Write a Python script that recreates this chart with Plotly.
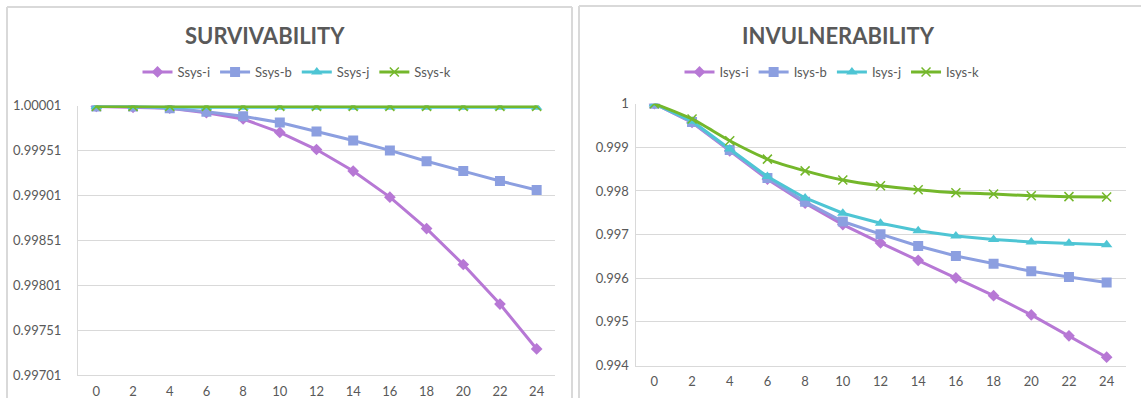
import plotly.graph_objects as go

# ---- data -------------------------------------------------------------
hours = [0, 2, 4, 6, 8, 10, 12, 14, 16, 18, 20, 22, 24]
hour_labels = [str(h) for h in hours]

ssys_i = [1.00000, 0.99999, 0.99998, 0.99993, 0.99986, 0.99971, 0.99952,
          0.99928, 0.99899, 0.99864, 0.99824, 0.99780, 0.99730]
ssys_b = [1.00000, 1.00000, 0.99998, 0.99994, 0.99989, 0.99982, 0.99972,
          0.99962, 0.99951, 0.99939, 0.99928, 0.99917, 0.99907]
ssys_j = [1.00000, 1.00000, 0.99999, 0.99999, 0.99999, 0.99999, 0.99999,
          0.99999, 0.99999, 0.99999, 0.99999, 0.99999, 0.99999]
ssys_k = [1.00000, 1.00000, 1.00000, 1.00000, 1.00000, 1.00000, 1.00000,
          1.00000, 1.00000, 1.00000, 1.00000, 1.00000, 1.00000]

isys_i = [1.00000, 0.99957, 0.99892, 0.99827, 0.99772, 0.99723, 0.99681,
          0.99641, 0.99601, 0.99560, 0.99516, 0.99468, 0.99419]
isys_b = [1.00000, 0.99958, 0.99894, 0.99830, 0.99775, 0.99730, 0.99701,
          0.99674, 0.99651, 0.99633, 0.99616, 0.99603, 0.99590]
isys_j = [1.00000, 0.99960, 0.99896, 0.99833, 0.99784, 0.99749, 0.99726,
          0.99709, 0.99697, 0.99689, 0.99683, 0.99680, 0.99677]
isys_k = [1.00000, 0.99965, 0.99915, 0.99873, 0.99846, 0.99825, 0.99812,
          0.99803, 0.99796, 0.99793, 0.99789, 0.99787, 0.99786]

s_ticks = [0.99701, 0.99751, 0.99801, 0.99851, 0.99901, 0.99951, 1.00001]
s_tick_labels = ["0.99701", "0.99751", "0.99801", "0.99851", "0.99901", "0.99951", "1.00001"]
i_ticks = [0.994, 0.995, 0.996, 0.997, 0.998, 0.999, 1.0]
i_tick_labels = ["0.994", "0.995", "0.996", "0.997", "0.998", "0.999", "1"]

# ---- styling ----------------------------------------------------------
W, H = 1141, 398
FONT = "Lato, Calibri, sans-serif"
TEXT = "#595959"
GRID = "#d9d9d9"

PURPLE = "#b778d5"
BLUE = "#8c9fe0"
CYAN = "#4ec5d4"
GREEN = "#74b72b"

series_style = [
    (PURPLE, "diamond", 9, 0),
    (BLUE, "square", 10, 0),
    (CYAN, "triangle-up", 10, 0),
    (GREEN, "x-thin", 9, 1.5),
]


def px_x(p):
    return p / W


def px_y(p):
    return 1 - p / H


fig = go.Figure()

left = [("Ssys-i", ssys_i), ("Ssys-b", ssys_b), ("Ssys-j", ssys_j), ("Ssys-k", ssys_k)]
right = [("Isys-i", isys_i), ("Isys-b", isys_b), ("Isys-j", isys_j), ("Isys-k", isys_k)]

for (name, vals), (col, sym, size, lw) in zip(left, series_style):
    fig.add_trace(go.Scatter(
        x=hours, y=vals, name=name, mode="lines+markers",
        line=dict(color=col, width=3),
        marker=dict(symbol=sym, size=size, color=col,
                    line=dict(color=col, width=lw)),
        xaxis="x", yaxis="y", legend="legend",
    ))

for (name, vals), (col, sym, size, lw) in zip(right, series_style):
    shape = "spline" if name == "Isys-k" else "linear"
    fig.add_trace(go.Scatter(
        x=hours, y=vals, name=name, mode="lines+markers",
        line=dict(color=col, width=3, shape=shape, smoothing=0.6),
        marker=dict(symbol=sym, size=size, color=col,
                    line=dict(color=col, width=lw)),
        xaxis="x2", yaxis="y2", legend="legend2",
    ))

axis_font = dict(family=FONT, size=13, color=TEXT)

xcommon = dict(
    tickvals=hours, ticktext=hour_labels, range=[-1, 25],
    showgrid=False, zeroline=False, showline=True, linecolor=GRID, linewidth=1,
    ticks="", tickfont=axis_font, ticklabelstandoff=4, fixedrange=True,
    automargin=False,
)
ycommon = dict(
    showgrid=True, gridcolor=GRID, gridwidth=1, zeroline=False,
    showline=True, linecolor=GRID, linewidth=1, ticks="",
    tickfont=axis_font, fixedrange=True, automargin=False,
)

fig.update_layout(
    width=W, height=H, autosize=False,
    margin=dict(l=0, r=0, t=0, b=0, autoexpand=False),
    paper_bgcolor="white", plot_bgcolor="white",
    font=dict(family=FONT, color=TEXT),
    xaxis=dict(domain=[px_x(78), px_x(555)], anchor="y", **xcommon),
    yaxis=dict(domain=[px_y(375), px_y(105.5)], anchor="x",
               range=[0.99701, 1.00001], tickvals=s_ticks, ticktext=s_tick_labels,
               ticklabelstandoff=13, **ycommon),
    xaxis2=dict(domain=[px_x(635.5), px_x(1125.5)], anchor="y2", **xcommon),
    yaxis2=dict(domain=[px_y(365.5), px_y(103.7)], anchor="x2",
                range=[0.994, 1.0], tickvals=i_ticks, ticktext=i_tick_labels,
                ticklabelstandoff=3, **ycommon),
    legend=dict(orientation="h", x=px_x(297), xanchor="center",
                y=px_y(72), yanchor="middle", itemwidth=30,
                font=dict(family=FONT, size=13, color=TEXT),
                bgcolor="rgba(0,0,0,0)", tracegroupgap=0),
    legend2=dict(orientation="h", x=px_x(832), xanchor="center",
                 y=px_y(72), yanchor="middle", itemwidth=30,
                 font=dict(family=FONT, size=13, color=TEXT),
                 bgcolor="rgba(0,0,0,0)", tracegroupgap=0),
    showlegend=True,
)

# chart titles
title_font = dict(family=FONT, size=22, color=TEXT, weight="bold")
fig.add_annotation(text="SURVIVABILITY", x=px_x(265), y=px_y(36),
                   xref="paper", yref="paper", showarrow=False,
                   xanchor="center", yanchor="middle", font=title_font)
fig.add_annotation(text="INVULNERABILITY", x=px_x(838), y=px_y(36),
                   xref="paper", yref="paper", showarrow=False,
                   xanchor="center", yanchor="middle", font=title_font)

# chart-area frames
frame = dict(color=GRID, width=2)
for x0, y0, x1, y1 in [
    (7, 7, 572, 7), (7, 7, 7, 400), (572, 7, 572, 400),
    (579, 6, 1145, 6), (579, 6, 579, 400),
]:
    fig.add_shape(type="line", xref="paper", yref="paper",
                  x0=px_x(x0), y0=px_y(y0), x1=px_x(x1), y1=px_y(y1),
                  line=frame, layer="below")

fig.write_html("out.html")
